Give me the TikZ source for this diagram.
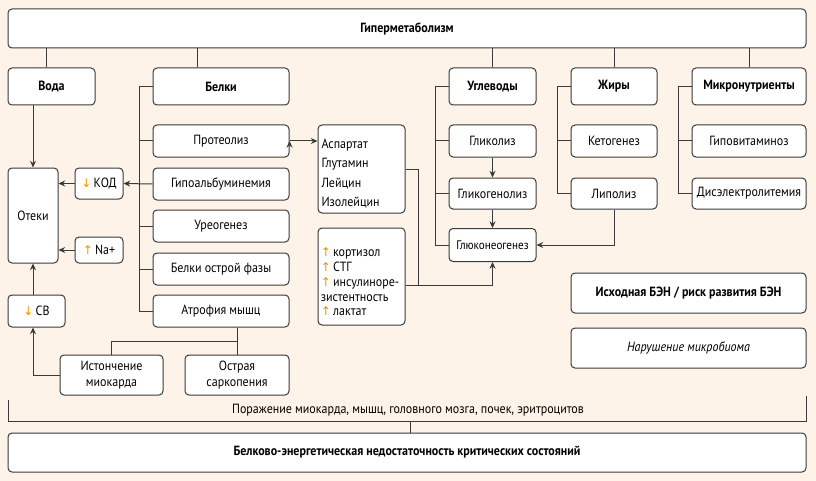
\documentclass[tikz,border=0pt]{standalone}
\usepackage{fontspec}
\setmainfont{PT Sans}[FakeStretch=0.9]
\newfontfamily\arrowfont{DejaVu Sans}
\usetikzlibrary{arrows.meta,positioning}
\definecolor{bgcream}{RGB}{253,243,232}
\definecolor{linegray}{RGB}{58,58,58}
\definecolor{arroworange}{RGB}{243,146,0}
\newcommand{\arrup}{{\color{arroworange}\arrowfont\fontsize{9}{9}\selectfont ↑}}
\newcommand{\arrdown}{{\color{arroworange}\arrowfont\fontsize{9}{9}\selectfont ↓}}
\begin{document}
\begin{tikzpicture}[x=0.75pt,y=-0.75pt,line width=0.75pt,
    box/.style={draw=linegray,fill=white,rounded corners=3pt,inner sep=1pt,
      align=center,text=black,font=\fontsize{10}{12}\selectfont},
    head/.style={box,font=\bfseries\fontsize{10}{12}\selectfont},
    sz/.style 2 args={minimum width=#1*0.75pt,minimum height=#2*0.75pt},
    link/.style={draw=linegray},
    arr/.style={draw=linegray,-{Stealth[length=5pt,width=4.5pt]}}]

  \fill[bgcream] (0,0) rectangle (816,481);

  % Define vertices
  \node[head,sz={798}{39}] (hyper) at (407,28.5) {Гиперметаболизм};
  \node[head,sz={87}{37}] (voda) at (51.5,86.5) {Вода};
  \node[head,sz={136}{37}] (belki) at (221,86.5) {Белки};
  \node[head,sz={87}{37}] (uglev) at (492.5,86.5) {Углеводы};
  \node[head,sz={86}{37}] (zhiry) at (614,86.5) {Жиры};
  \node[head,sz={114}{37}] (mikro) at (749,86.5) {Микронутриенты};

  \node[box,sz={136}{32}] (proteoliz) at (221,141) {Протеолиз};
  \node[box,sz={136}{32}] (gipoalb) at (221,184) {Гипоальбуминемия};
  \node[box,sz={136}{32}] (ureo) at (221,226) {Уреогенез};
  \node[box,sz={136}{32}] (ostrfaza) at (221,269) {Белки острой фазы};
  \node[box,sz={136}{32}] (atrof) at (221,311) {Атрофия мышц};

  \node[box,sz={50}{95}] (oteki) at (33,215.5) {Отеки};
  \node[box,sz={48}{31}] (kod) at (99,183.5) {\arrdown\,КОД};
  \node[box,sz={48}{26}] (natr) at (99,250) {\arrup\,Na+};
  \node[box,sz={57}{32}] (sv) at (36.5,311) {\arrdown\,СВ};
  \node[box,sz={103}{40},font=\fontsize{10}{11.5}\selectfont] (iston) at (111.5,375) {Истончение\\миокарда};
  \node[box,sz={104}{40},font=\fontsize{10}{11.5}\selectfont] (sarko) at (237,375) {Острая\\саркопения};

  \node[box,sz={87}{88},text width=60pt,align=left,
    font=\fontsize{10}{14.6}\selectfont] (amino) at (361.5,169)
    {\rule{0pt}{14pt}Аспартат\\Глутамин\\Лейцин\\Изолейцин};
  \node[box,sz={87}{97},text width=61pt,align=left,
    font=\fontsize{10}{11.2}\selectfont] (horm) at (361.5,276.5)
    {\rule{0pt}{14.5pt}\arrup\,кортизол\\\arrup\,СТГ\\\arrup\,инсулиноре-\\зистентность\\\arrup\,лактат};

  \node[box,sz={87}{32}] (glikoliz) at (492.5,141) {Гликолиз};
  \node[box,sz={87}{31}] (glikogen) at (492.5,193.5) {Гликогенолиз};
  \node[box,sz={87}{33},font=\fontsize{9.3}{11}\selectfont] (glukoneo) at (492.5,245) {Глюконеогенез};
  \node[box,sz={86}{32}] (ketogen) at (614,141) {Кетогенез};
  \node[box,sz={86}{31}] (lipoliz) at (614,193.5) {Липолиз};
  \node[box,sz={114}{32}] (gipovit) at (749,141) {Гиповитаминоз};
  \node[box,sz={114}{31}] (diselek) at (749,193.5) {Дисэлектролитемия};

  \node[head,sz={235}{40}] (ishod) at (688.5,293) {Исходная БЭН / риск развития БЭН};
  \node[box,sz={235}{40},font=\itshape\fontsize{10}{12}\selectfont] (mikrob) at (688.5,348) {Нарушение микробиома};

  \node[text=black,font=\fontsize{10}{12}\selectfont] (porazh) at (408,410)
    {Поражение миокарда, мышц, головного мозга, почек, эритроцитов};
  \node[head,sz={798}{39}] (bottom) at (407,452.5)
    {Белково-энергетическая недостаточность критических состояний};

  % Draw edges
  \coordinate (tv) at (46,0);
  \coordinate (tb) at (197,0);
  \draw[link] (hyper.south -| tv) -- (voda.north -| tv);
  \draw[link] (hyper.south -| tb) -- (belki.north -| tb);
  \foreach \n in {uglev,zhiry,mikro}
    \draw[link] (hyper.south -| \n) -- (\n.north);

  % brackets
  \coordinate (bb) at (139,0);
  \draw[link] (belki.west) -| (bb |- atrof) -- (atrof.west);
  \foreach \n in {proteoliz,ureo,ostrfaza}
    \draw[link] (\n.west) -- (bb |- \n);
  \coordinate (bu) at (435,0);
  \draw[link] (uglev.west) -| (bu |- glukoneo) -- (glukoneo.west);
  \foreach \n in {glikoliz,glikogen}
    \draw[link] (\n.west) -- (bu |- \n);
  \coordinate (bz) at (557,0);
  \draw[link] (zhiry.west) -| (bz |- lipoliz) -- (lipoliz.west);
  \draw[link] (ketogen.west) -- (bz |- ketogen);
  \coordinate (bm) at (678,0);
  \draw[link] (mikro.west) -| (bm |- diselek) -- (diselek.west);
  \draw[link] (gipovit.west) -- (bm |- gipovit);

  \path[arr]
    (gipoalb.west) edge (kod.east)
    (kod.west) edge (kod.west -| oteki.east)
    (natr.west) edge (natr.west -| oteki.east)
    (voda.south -| oteki) edge (oteki.north)
    (sv.north -| oteki) edge (oteki.south)
    (proteoliz.east) edge (proteoliz.east -| amino.west)
    (glikoliz) edge (glikogen)
    (glikogen) edge (glukoneo);

  \draw[arr] (iston.west) -| (sv.south -| oteki);
  \coordinate (aj) at (237,341);
  \draw[link] (atrof.south -| sarko) -- (sarko.north);
  \draw[link] (iston.north) |- (aj);

  \coordinate (hj) at (418,285);
  \draw[link] (amino.east) -| (hj);
  \draw[arr] (horm.east |- hj) -| (glukoneo.south);
  \draw[arr] (lipoliz.south) |- (glukoneo.east);

  % bottom bracket
  \coordinate (bl) at (8,400);
  \coordinate (br) at (806,396);
  \coordinate (bline) at (0,421);
  \coordinate (bj) at (410,421);
  \draw[link] (bl) |- (bline -| br) -- (br);
  \draw[link] (bj) -- (bj |- bottom.north);

\end{tikzpicture}
\end{document}
